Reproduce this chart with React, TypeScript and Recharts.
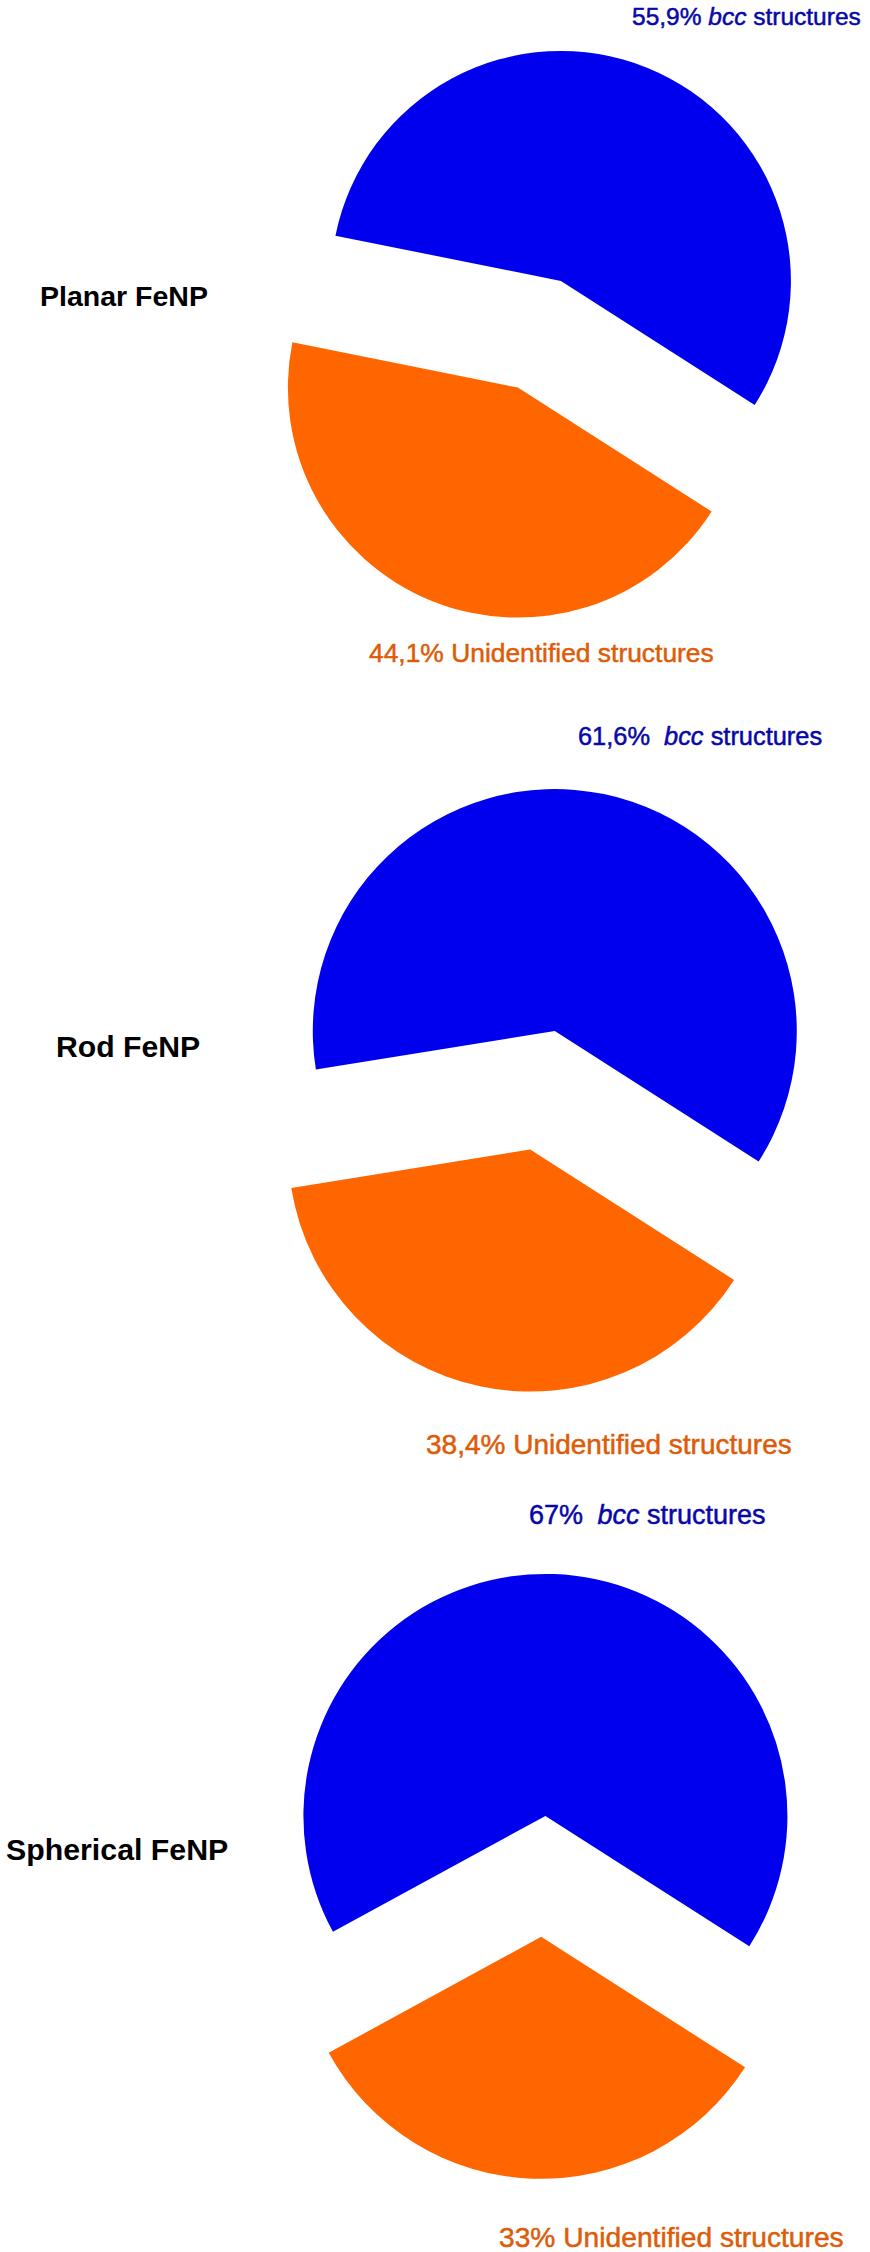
import React from "react";
import { PieChart, Pie, Cell } from "recharts";

// ---- data ----
const categories = ["Planar FeNP", "Rod FeNP", "Spherical FeNP"];
const bccShare = [55.9, 61.6, 67];
const unidentifiedShare = [44.1, 38.4, 33];
const seriesNames = ["bcc", "Unidentified structures"];

// ---- styles / layout ----
const PIE_BLUE = "#0000EE";
const PIE_ORANGE = "#FF6600";
const TEXT_BLUE = "#0808A8";
const TEXT_ORANGE = "#DD5C08";
const FONT = "'Liberation Sans', Arial, Helvetica, sans-serif";
const START_ANGLE = -32.6;
const EXPLODE = 0.25;

const layouts = [
  { cx: 539.4, cy: 334.3, r: 230, title: { x: 40, y: 306, size: 28.5 }, bcc: { x: 632, y: 25, size: 24.5, gap: 0 }, unid: { x: 369, y: 662, size: 26.4 } },
  { cx: 542.5, cy: 1090.3, r: 242, title: { x: 56, y: 1057, size: 30.2 }, bcc: { x: 578, y: 745, size: 25.4, gap: 7 }, unid: { x: 426, y: 1454, size: 28 } },
  { cx: 543.3, cy: 1876.4, r: 242, title: { x: 6, y: 1860, size: 30.3 }, bcc: { x: 529, y: 1524, size: 27, gap: 7 }, unid: { x: 499, y: 2247, size: 28.2 } },
];

const fmt = (v: number) => String(v).replace(".", ",") + "%";

function explodedPies(i: number) {
  const data = [
    { name: seriesNames[0], value: bccShare[i] },
    { name: seriesNames[1], value: unidentifiedShare[i] },
  ];
  const L = layouts[i];
  const total = bccShare[i] + unidentifiedShare[i];
  const mid = START_ANGLE + (bccShare[i] / total) * 360 / 2;
  const d = EXPLODE * L.r;
  const dx = d * Math.cos((mid * Math.PI) / 180);
  const dy = -d * Math.sin((mid * Math.PI) / 180);
  return [
    <Pie
      key={`bcc-${i}`}
      data={data}
      dataKey="value"
      nameKey="name"
      cx={L.cx + dx}
      cy={L.cy + dy}
      outerRadius={L.r}
      innerRadius={0}
      startAngle={START_ANGLE}
      endAngle={START_ANGLE + 360}
      stroke="none"
      isAnimationActive={false}
      legendType="none"
    >
      <Cell fill={PIE_BLUE} />
      <Cell fill="none" />
    </Pie>,
    <Pie
      key={`unid-${i}`}
      data={data}
      dataKey="value"
      nameKey="name"
      cx={L.cx - dx}
      cy={L.cy - dy}
      outerRadius={L.r}
      innerRadius={0}
      startAngle={START_ANGLE}
      endAngle={START_ANGLE + 360}
      stroke="none"
      isAnimationActive={false}
      legendType="none"
    >
      <Cell fill="none" />
      <Cell fill={PIE_ORANGE} />
    </Pie>,
  ];
}

function labels(i: number) {
  const L = layouts[i];
  return (
    <g key={`labels-${i}`}>
      <text x={L.title.x} y={L.title.y} fontFamily={FONT} fontSize={L.title.size} fontWeight="bold" fill="#000">
        {categories[i]}
      </text>
      <text x={L.bcc.x} y={L.bcc.y} fontFamily={FONT} fontSize={L.bcc.size} fill={TEXT_BLUE} stroke={TEXT_BLUE} strokeWidth={0.5}>
        <tspan>{fmt(bccShare[i])}</tspan>
        <tspan dx={L.bcc.gap} fontStyle="italic">{" " + seriesNames[0]}</tspan>
        <tspan> structures</tspan>
      </text>
      <text x={L.unid.x} y={L.unid.y} fontFamily={FONT} fontSize={L.unid.size} fill={TEXT_ORANGE} stroke={TEXT_ORANGE} strokeWidth={0.5}>
        {fmt(unidentifiedShare[i]) + " " + seriesNames[1]}
      </text>
    </g>
  );
}

export default function App() {
  return (
    <div style={{ position: "absolute", left: 0, top: 0, width: 870, height: 2252, background: "#fff" }}>
      <PieChart width={870} height={2252} margin={{ top: 0, right: 0, bottom: 0, left: 0 }}>
        {[0, 1, 2].flatMap((i) => explodedPies(i))}
        {[0, 1, 2].map((i) => labels(i))}
      </PieChart>
    </div>
  );
}
